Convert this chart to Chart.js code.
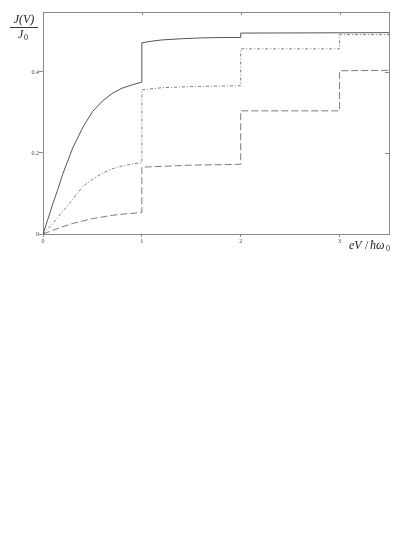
<!DOCTYPE html>
<html>
<head>
<meta charset="utf-8">
<script src="https://cdn.jsdelivr.net/npm/chart.js@4/dist/chart.umd.min.js"></script>
<style>
  html, body { margin: 0; padding: 0; background: #fff; }
  #wrap { width: 415px; height: 537px; }
</style>
</head>
<body>
<div id="wrap"><canvas id="chart" width="415" height="537"></canvas></div>
<script>
// values
const xTicks = [0, 1, 2, 3];
const yTicks = [0, 0.2, 0.4];

const solidX = [0, 0.05, 0.1, 0.15, 0.2, 0.25, 0.3, 0.4, 0.5, 0.6, 0.7, 0.8, 0.9, 1.0, 1.0, 1.1, 1.2, 1.4, 1.6, 1.8, 2.0, 2.0, 3.5];
const solidY = [0, 0.037, 0.075, 0.11, 0.148, 0.18, 0.212, 0.262, 0.302, 0.328, 0.347, 0.36, 0.368, 0.375, 0.472, 0.476, 0.479, 0.482, 0.484, 0.485, 0.485, 0.496, 0.497];

const dashDotX = [0, 0.1, 0.2, 0.3, 0.4, 0.5, 0.6, 0.7, 0.8, 0.9, 1.0, 1.0, 1.2, 1.5, 2.0, 2.0, 3.0, 3.0, 3.5];
const dashDotY = [0, 0.026, 0.056, 0.085, 0.117, 0.135, 0.15, 0.161, 0.168, 0.173, 0.176, 0.356, 0.361, 0.364, 0.366, 0.457, 0.457, 0.492, 0.492];

const dashedX = [0, 0.1, 0.2, 0.3, 0.4, 0.5, 0.6, 0.7, 0.8, 0.9, 1.0, 1.0, 1.5, 2.0, 2.0, 3.0, 3.0, 3.5];
const dashedY = [0, 0.009, 0.018, 0.026, 0.032, 0.038, 0.042, 0.046, 0.049, 0.051, 0.053, 0.165, 0.17, 0.172, 0.304, 0.304, 0.403, 0.404];

const axisColor = '#8a8a8a';
const tickFont = { family: 'Liberation Serif', size: 6 };

const pts = (xs, ys) => xs.map((x, i) => ({ x: x, y: ys[i] }));

const labelsPlugin = {
  id: 'labels',
  beforeDraw(chart) {
    const c = chart.ctx;
    c.save();
    c.fillStyle = '#fff';
    c.fillRect(0, 0, chart.width, chart.height);
    c.restore();
  },
  afterDraw(chart) {
    const c = chart.ctx;
    const xs = chart.scales.x, ys = chart.scales.y;
    const a = chart.chartArea;
    c.save();
    // inward ticks on top and right edges
    c.strokeStyle = axisColor;
    c.lineWidth = 1;
    c.beginPath();
    [1, 2, 3].forEach(v => {
      const px = Math.round(xs.getPixelForValue(v)) + 0.5;
      c.moveTo(px, a.top);
      c.lineTo(px, a.top + 3);
    });
    [0.2, 0.4].forEach(v => {
      const py = Math.round(ys.getPixelForValue(v)) + 0.5;
      c.moveTo(a.right, py);
      c.lineTo(a.right - 4, py);
    });
    c.stroke();

    // y title as a fraction
    c.fillStyle = '#222';
    c.font = 'italic 12px "Liberation Serif"';
    c.textAlign = 'center';
    c.textBaseline = 'alphabetic';
    c.fillText('J(V)', 24, 23);
    c.beginPath();
    c.moveTo(10, 27.5);
    c.lineTo(38, 27.5);
    c.strokeStyle = '#333';
    c.stroke();
    c.textAlign = 'left';
    c.fillText('J', 18, 38);
    c.font = '8px "Liberation Serif"';
    c.fillText('0', 24, 40);

    // x title
    c.font = 'italic 12px "Liberation Serif"';
    c.fillText('eV', 349, 249);
    c.font = '12px "Liberation Serif"';
    c.fillText('/', 365, 249);
    c.font = 'italic 12px "Liberation Serif"';
    c.fillText('\u0127\u03c9', 370, 249);
    c.font = '8px "Liberation Serif"';
    c.fillText('0', 386, 251);
    c.restore();
  }
};

new Chart(document.getElementById('chart'), {
  type: 'line',
  data: {
    datasets: [
      {
        data: pts(solidX, solidY),
        borderColor: '#555',
        borderWidth: 1,
        pointRadius: 0,
        tension: 0,
      },
      {
        data: pts(dashDotX, dashDotY),
        borderColor: '#7c7c7c',
        borderWidth: 1,
        borderDash: [3, 2, 1, 2],
        pointRadius: 0,
        tension: 0,
      },
      {
        data: pts(dashedX, dashedY),
        borderColor: '#7c7c7c',
        borderWidth: 1,
        borderDash: [7, 3],
        pointRadius: 0,
        tension: 0,
      },
    ],
  },
  options: {
    responsive: false,
    animation: false,
    parsing: false,
    layout: { padding: 0 },
    plugins: { legend: { display: false }, tooltip: { enabled: false } },
    scales: {
      x: {
        type: 'linear',
        position: 'bottom',
        min: 0,
        max: 3.5,
        afterBuildTicks: s => { s.ticks = xTicks.map(v => ({ value: v })); },
        afterFit: s => { s.height = 303; },
        border: { color: axisColor, width: 1 },
        grid: { drawOnChartArea: false, tickLength: 3, color: axisColor },
        ticks: { font: tickFont, color: '#444', padding: 1, maxRotation: 0 },
      },
      x2: {
        type: 'linear',
        position: 'top',
        min: 0,
        max: 3.5,
        afterFit: s => { s.height = 12; },
        border: { color: axisColor, width: 1 },
        grid: { display: false },
        ticks: { display: false },
      },
      y: {
        type: 'linear',
        position: 'left',
        min: 0,
        max: 0.548,
        afterBuildTicks: s => { s.ticks = yTicks.map(v => ({ value: v })); },
        afterFit: s => { s.width = 43; },
        border: { color: axisColor, width: 1 },
        grid: { drawOnChartArea: false, tickLength: 4, color: axisColor },
        ticks: { font: tickFont, color: '#444', padding: 0 },
      },
      y2: {
        type: 'linear',
        position: 'right',
        min: 0,
        max: 0.548,
        afterFit: s => { s.width = 26; },
        border: { color: axisColor, width: 1 },
        grid: { display: false },
        ticks: { display: false },
      },
    },
  },
  plugins: [labelsPlugin],
});
</script>
</body>
</html>
